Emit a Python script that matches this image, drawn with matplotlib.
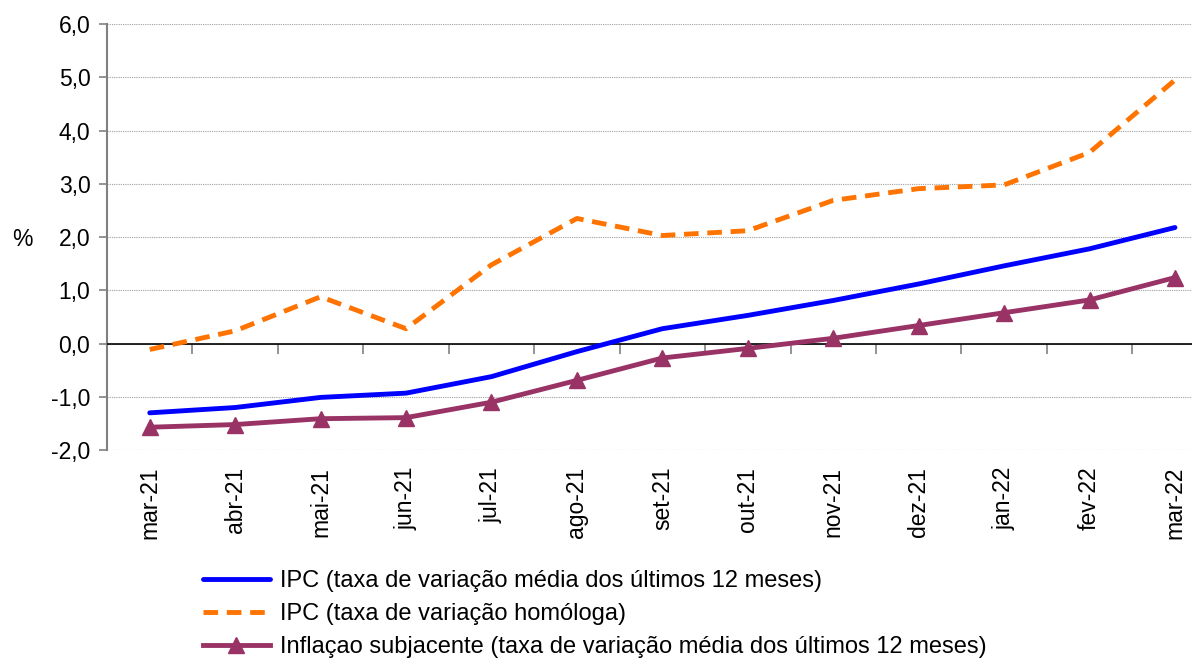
import matplotlib
matplotlib.use('Agg')
import matplotlib.pyplot as plt

plt.rcParams['font.family'] = ['Liberation Sans', 'DejaVu Sans']

# Data
months = ['mar-21', 'abr-21', 'mai-21', 'jun-21', 'jul-21', 'ago-21', 'set-21',
          'out-21', 'nov-21', 'dez-21', 'jan-22', 'fev-22', 'mar-22']
ipc_media = [-1.30, -1.20, -1.01, -0.93, -0.62, -0.15, 0.28, 0.53, 0.81, 1.12, 1.46, 1.78, 2.18]
ipc_homologa = [-0.11, 0.24, 0.88, 0.28, 1.48, 2.35, 2.03, 2.12, 2.69, 2.91, 2.98, 3.59, 4.95]
subjacente = [-1.57, -1.52, -1.41, -1.39, -1.10, -0.69, -0.27, -0.09, 0.10, 0.34, 0.58, 0.82, 1.24]

labels = ['IPC (taxa de variação média dos últimos 12 meses)',
          'IPC (taxa de variação homóloga)',
          'Inflaçao subjacente (taxa de variação média dos últimos 12 meses)']

FS = 16.5
LFS = 17

fig = plt.figure(figsize=(11.92, 6.6), dpi=100)
ax = fig.add_axes([0.0898, 0.318, 0.921, 0.6455])

x = list(range(len(months)))
l1, = ax.plot(x, ipc_media, color='#0000FF', lw=3.5, solid_capstyle='round', zorder=4)
l2, = ax.plot(x, ipc_homologa, color='#FF7300', lw=3.5, dashes=(3.0, 1.8), zorder=4)
l3, = ax.plot(x, subjacente, color='#993366', lw=3.5, marker='^', ms=11, zorder=5)

ax.set_ylim(-2, 6)
ax.set_xlim(-0.5, 12.35)
ax.set_yticks([-2, -1, 0, 1, 2, 3, 4, 5, 6])
ax.set_yticklabels([f'{v:.1f}'.replace('.', ',') for v in ax.get_yticks()], fontsize=FS)
ax.yaxis.grid(True, linestyle=(0, (1, 1)), color='#A0A0A0', lw=0.8)
ax.set_axisbelow(True)
ax.axhline(0, color='black', lw=1.2, zorder=3)

for s in ['top', 'right', 'bottom']:
    ax.spines[s].set_visible(False)
ax.spines['left'].set_color('#808080')
ax.spines['left'].set_linewidth(1.5)
ax.tick_params(axis='y', direction='out', length=6, width=1.2, color='#808080', pad=6)

ax.set_xticks(x)
ax.set_xticklabels(months, rotation=90, fontsize=FS, va='top')
ax.tick_params(axis='x', length=0, pad=12)

# boundary ticks on the zero line
sec = ax.secondary_xaxis(0.25)
sec.set_xticks([i + 0.5 for i in x[:-1]] + [-0.5])
sec.set_xticklabels([])
sec.tick_params(direction='out', length=7, width=1.2, color='#808080')
sec.spines['bottom'].set_visible(False)

ax.set_ylabel('%', rotation=0, fontsize=FS, va='center', ha='center')
ax.yaxis.set_label_coords(-0.077, 0.495)

fig.legend([l1, l2, l3], labels, loc='upper left', bbox_to_anchor=(0.170, 0.136),
           bbox_transform=fig.transFigure, frameon=False, fontsize=LFS,
           handlelength=2.84, handletextpad=0.45, labelspacing=0.47,
           borderaxespad=0, borderpad=0)

fig.savefig('out.png', dpi=100)
